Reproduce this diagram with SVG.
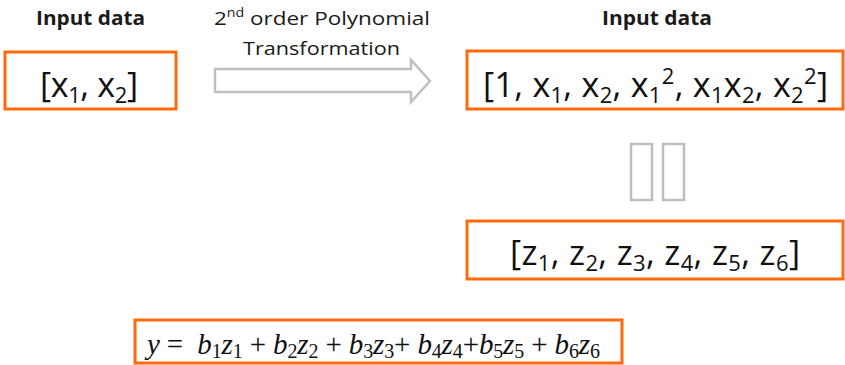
<svg xmlns="http://www.w3.org/2000/svg" width="845" height="365" viewBox="0 0 845 365">
<style>
.box{fill:#fff;stroke:#ff6a0d;stroke-width:3}
.hd{font-family:"Open Sans","Liberation Sans",sans-serif;font-weight:bold;font-size:20px;fill:#1a1a1a}
.lbl{font-family:"Open Sans","Liberation Sans",sans-serif;font-size:19px;fill:#1a1a1a}
.big{font-family:"Open Sans","Liberation Sans",sans-serif;font-size:34px;fill:#111}
.sub{font-size:22px}
.eq{font-family:"Liberation Serif",serif;font-size:29px;fill:#111}
.it{font-style:italic}
.es{font-size:20px}
.gr{fill:#fff;stroke:#bfbfbf;stroke-width:2.5}
</style>
<rect width="845" height="365" fill="#fff"/>
<g id="title-left"><text class="hd" x="36" y="25" textLength="109" lengthAdjust="spacingAndGlyphs">Input data</text></g>
<g id="title-right"><text class="hd" x="602" y="25" textLength="110" lengthAdjust="spacingAndGlyphs">Input data</text></g>
<g id="transform-label"><text class="lbl" x="214" y="25" textLength="216" lengthAdjust="spacingAndGlyphs">2<tspan font-size="12" dy="-8">nd</tspan><tspan dy="8"> order Polynomial</tspan></text><text class="lbl" x="243" y="55" textLength="157" lengthAdjust="spacingAndGlyphs">Transformation</text></g>
<g id="input">
<rect class="box" x="5" y="52" width="171" height="57"/>
<text class="big" x="40" y="97" textLength="98">[x<tspan class="sub" dy="6">1</tspan><tspan dy="-6">, x</tspan><tspan class="sub" dy="6">2</tspan><tspan dy="-6">]</tspan></text>
</g>
<g id="features">
<rect class="box" x="467" y="51" width="376" height="58"/>
<text class="big" x="483" y="97" textLength="345">[1, x<tspan class="sub" dy="6">1</tspan><tspan dy="-6">, x</tspan><tspan class="sub" dy="6">2</tspan><tspan dy="-6">, x</tspan><tspan class="sub" dy="6">1</tspan><tspan class="sub" dy="-19">2</tspan><tspan dy="13">, x</tspan><tspan class="sub" dy="6">1</tspan><tspan dy="-6">x</tspan><tspan class="sub" dy="6">2</tspan><tspan dy="-6">, x</tspan><tspan class="sub" dy="6">2</tspan><tspan class="sub" dy="-19">2</tspan><tspan dy="13">]</tspan></text>
</g>
<g id="zvars">
<rect class="box" x="467" y="221" width="376" height="58"/>
<text class="big" x="510" y="265" textLength="290">[z<tspan class="sub" dy="6">1</tspan><tspan dy="-6">, z</tspan><tspan class="sub" dy="6">2</tspan><tspan dy="-6">, z</tspan><tspan class="sub" dy="6">3</tspan><tspan dy="-6">, z</tspan><tspan class="sub" dy="6">4</tspan><tspan dy="-6">, z</tspan><tspan class="sub" dy="6">5</tspan><tspan dy="-6">, z</tspan><tspan class="sub" dy="6">6</tspan><tspan dy="-6">]</tspan></text>
</g>
<g id="equation">
<rect class="box" x="135" y="320" width="487" height="43"/>
<text class="eq" x="147" y="354" textLength="453" xml:space="preserve"><tspan class="it">y</tspan> =  <tspan class="it">b</tspan><tspan class="es" dy="4">1</tspan><tspan class="it" dy="-4">z</tspan><tspan class="es" dy="4">1</tspan><tspan dy="-4"> + </tspan><tspan class="it">b</tspan><tspan class="es" dy="4">2</tspan><tspan class="it" dy="-4">z</tspan><tspan class="es" dy="4">2</tspan><tspan dy="-4"> + </tspan><tspan class="it">b</tspan><tspan class="es" dy="4">3</tspan><tspan class="it" dy="-4">z</tspan><tspan class="es" dy="4">3</tspan><tspan dy="-4">+ </tspan><tspan class="it">b</tspan><tspan class="es" dy="4">4</tspan><tspan class="it" dy="-4">z</tspan><tspan class="es" dy="4">4</tspan><tspan dy="-4">+</tspan><tspan class="it">b</tspan><tspan class="es" dy="4">5</tspan><tspan class="it" dy="-4">z</tspan><tspan class="es" dy="4">5</tspan><tspan dy="-4"> + </tspan><tspan class="it">b</tspan><tspan class="es" dy="4">6</tspan><tspan class="it" dy="-4">z</tspan><tspan class="es" dy="4">6</tspan></text>
</g>
<g id="connectors">
<path class="gr" d="M215 69 H411 V60 L430 81 L411 102 V92 H215 Z"/>
<rect class="gr" x="631" y="144" width="21" height="56"/>
<rect class="gr" x="663" y="144" width="21" height="56"/>
</g>
</svg>
